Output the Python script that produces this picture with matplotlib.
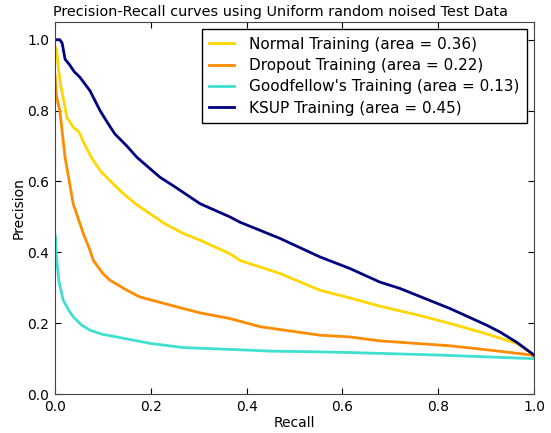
import matplotlib
matplotlib.use("Agg")
import matplotlib.pyplot as plt

recall_normal = [0, 0.003, 0.007, 0.012, 0.017, 0.025, 0.038, 0.05, 0.059, 0.075, 0.094, 0.12, 0.143, 0.17, 0.198, 0.23, 0.268, 0.303, 0.365, 0.386, 0.47, 0.553, 0.616, 0.678, 0.76, 0.825, 0.9, 0.964, 1.0]
prec_normal = [0.98, 0.975, 0.92, 0.87, 0.837, 0.78, 0.753, 0.74, 0.712, 0.67, 0.631, 0.595, 0.565, 0.535, 0.509, 0.48, 0.453, 0.434, 0.396, 0.377, 0.34, 0.293, 0.271, 0.248, 0.222, 0.199, 0.17, 0.143, 0.11]

recall_dropout = [0, 0.003, 0.010, 0.021, 0.038, 0.059, 0.073, 0.08, 0.1, 0.115, 0.15, 0.177, 0.268, 0.303, 0.365, 0.428, 0.553, 0.616, 0.678, 0.825, 0.9, 0.995, 1.0]
prec_dropout = [0.9, 0.84, 0.80, 0.668, 0.537, 0.453, 0.406, 0.377, 0.34, 0.321, 0.293, 0.274, 0.241, 0.229, 0.213, 0.19, 0.166, 0.161, 0.15, 0.136, 0.125, 0.11, 0.105]

recall_good = [0, 0.001, 0.003, 0.008, 0.017, 0.027, 0.038, 0.055, 0.073, 0.1, 0.129, 0.198, 0.268, 0.365, 0.45, 0.55, 0.616, 0.8, 0.995, 1.0]
prec_good = [0.45, 0.443, 0.387, 0.32, 0.265, 0.24, 0.218, 0.195, 0.18, 0.168, 0.161, 0.143, 0.131, 0.126, 0.121, 0.119, 0.117, 0.11, 0.10, 0.10]

recall_ksup = [0, 0.01, 0.015, 0.021, 0.03, 0.04, 0.052, 0.073, 0.094, 0.11, 0.125, 0.15, 0.171, 0.219, 0.25, 0.282, 0.303, 0.365, 0.386, 0.47, 0.553, 0.616, 0.678, 0.72, 0.825, 0.9, 0.929, 0.965, 0.985, 1.0]
prec_ksup = [1.0, 1.0, 0.99, 0.945, 0.93, 0.91, 0.894, 0.856, 0.80, 0.765, 0.734, 0.70, 0.668, 0.612, 0.585, 0.556, 0.537, 0.50, 0.485, 0.439, 0.387, 0.354, 0.316, 0.298, 0.241, 0.195, 0.175, 0.145, 0.125, 0.11]

labels = ["Normal Training (area = 0.36)", "Dropout Training (area = 0.22)",
          "Goodfellow's Training (area = 0.13)", "KSUP Training (area = 0.45)"]
colors = ["gold", "darkorange", "turquoise", "navy"]

fig = plt.figure(figsize=(5.51, 4.33), dpi=100)
ax = fig.add_axes([55/551, 39/433, 479/551, 372/433])
series = [(recall_normal, prec_normal), (recall_dropout, prec_dropout),
          (recall_good, prec_good), (recall_ksup, prec_ksup)]
for (r, p), c, l in zip(series, colors, labels):
    ax.plot(r, p, color=c, lw=2, label=l)

ax.set_xlim(0, 1)
ax.set_ylim(0, 1.05)
ax.set_xticks([0, 0.2, 0.4, 0.6, 0.8, 1.0])
ax.set_yticks([0, 0.2, 0.4, 0.6, 0.8, 1.0])
ax.tick_params(direction="in", top=True, right=True, labelsize=10, length=4, pad=4)
ax.set_xlabel("Recall", fontsize=10, labelpad=2)
ax.set_ylabel("Precision", fontsize=10, labelpad=1)
ax.set_title("Precision-Recall curves using Uniform random noised Test Data",
             fontsize=10.4, pad=4, x=0.47)
for s in ax.spines.values():
    s.set_color("#444444")
leg = ax.legend(loc="upper right", fontsize=11, fancybox=False, framealpha=1,
                handlelength=1.6, handletextpad=1.0, borderpad=0.5,
                labelspacing=0.42, borderaxespad=0.45)
leg.get_frame().set_edgecolor("black")
fig.savefig("out.png", dpi=100)
